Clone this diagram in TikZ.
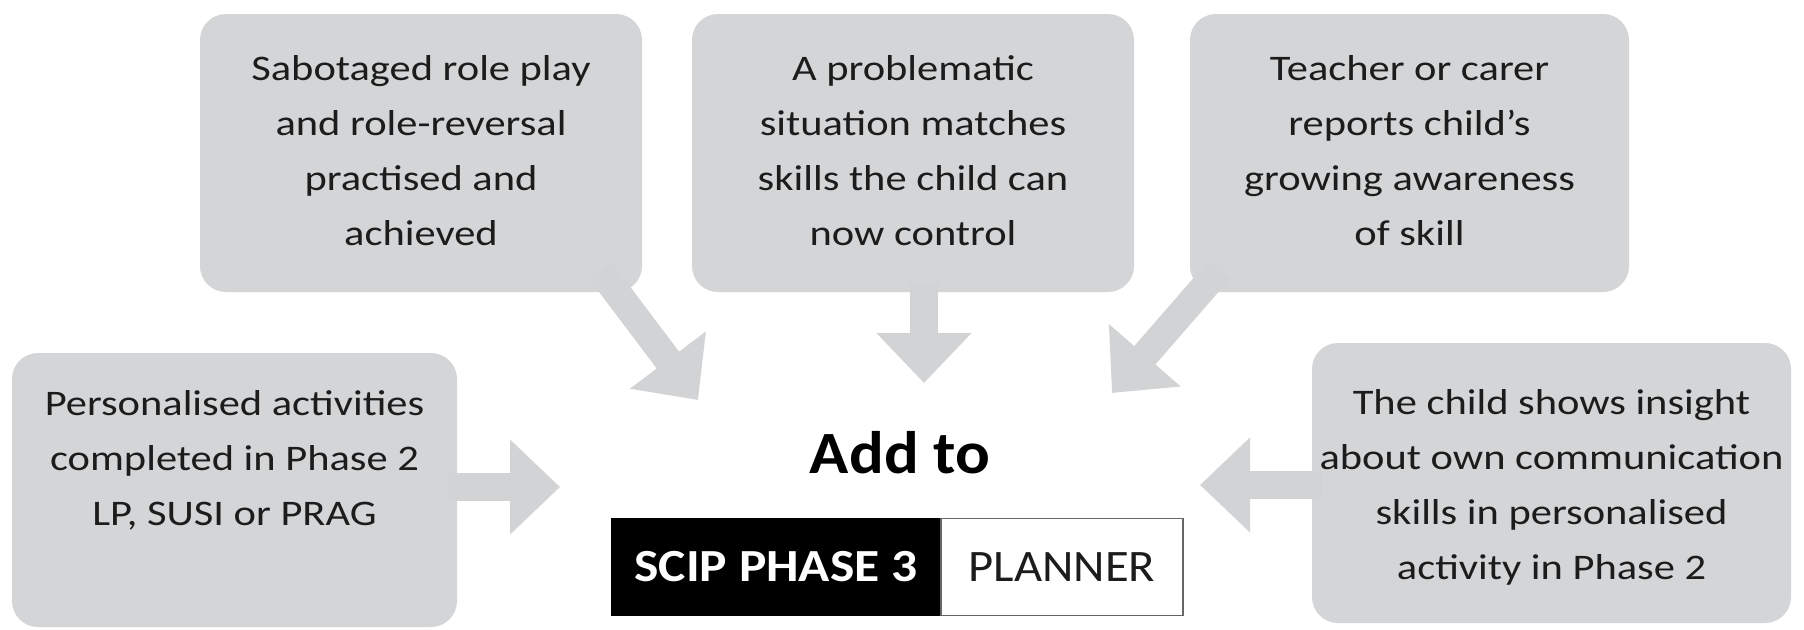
\documentclass[tikz,border=0pt]{standalone}
\usepackage{fontspec}
\setmainfont{Carlito}
\newfontfamily\bodyfont{Carlito}[FakeStretch=1.18]
\newfontfamily\scipfont{Carlito}[FakeStretch=1.08]
\newfontfamily\scipwide{Carlito}[FakeStretch=1.12]
\usetikzlibrary{arrows.meta}
\definecolor{boxgray}{RGB}{211,213,215}
\definecolor{arrgray}{RGB}{209,211,213}
\definecolor{txt}{RGB}{28,28,28}
\begin{document}
\begin{tikzpicture}[x=1pt,y=-1pt,
  bubble/.style={fill=boxgray, rounded corners=26pt, inner sep=0pt, outer sep=0pt},
  btext/.style={text=txt, font=\bodyfont\fontsize{36}{55}\selectfont, align=center, inner sep=0pt},
  blockarrow/.style={draw=arrgray, line width=28pt, -{Triangle[width=92pt,length=50pt]}}]
\fill[white] (0,0) rectangle (1804,629);
\useasboundingbox (0,0) rectangle (1804,629);

% bubbles
\node[bubble, minimum width=442pt, minimum height=278pt] (b1) at (421,153) {};
\node[bubble, minimum width=442pt, minimum height=278pt] (b2) at (913,153) {};
\node[bubble, minimum width=439pt, minimum height=278pt] (b3) at (1409.5,153) {};
\node[bubble, minimum width=445pt, minimum height=274pt] (b4) at (234.5,490) {};
\node[bubble, minimum width=479pt, minimum height=280pt] (b5) at (1551.5,483) {};

% arrow targets
\coordinate (h1) at (698,400);
\coordinate (h2) at (924,383);
\coordinate (h3) at (1112,393);
\coordinate (h4) at (560,487);
\coordinate (h5) at (1200,485);

% arrows
\draw[blockarrow] ([xshift=-42pt,yshift=22pt]b1.south east) -- (h1);
\draw[blockarrow] ([xshift=11pt,yshift=10pt]b2.south) -- (h2);
\draw[blockarrow] ([xshift=29pt,yshift=22pt]b3.south west) -- (h3);
\draw[blockarrow] ([xshift=-10pt,yshift=3pt]b4.east) -- (h4);
\draw[blockarrow] ([xshift=10pt,yshift=-2pt]b5.west) -- (h5);

% texts
\node[btext] (t1) at (421,151) {Sabotaged role play\\and role-reversal\\practised and\\achieved};
\node[btext] (t2) at (913,151) {A problematic\\situation matches\\skills the child can\\now control};
\node[btext] (t3) at (1409.5,151) {Teacher or carer\\reports child’s\\growing awareness\\of skill};
\node[btext] (t4) at (234.5,460) {Personalised activities\\completed in Phase 2\\LP, SUSI or PRAG};
\node[btext] (t5) at (1551.5,487) {The child shows insight\\about own communication\\skills in personalised\\activity in Phase 2};

% centre
\node[text=black, font=\scipfont\bfseries\fontsize{60}{70}\selectfont, anchor=base, inner sep=0pt] (add) at (900,473) {Add to};
\node[fill=black, text=white, font=\scipwide\bfseries\fontsize{46}{50}\selectfont, minimum width=330pt, minimum height=98pt, inner sep=0pt, outer sep=0pt] (scip) at (776,567) {SCIP PHASE 3};
\node[draw=black!60, line width=1.5pt, fill=white, text=txt, font=\scipfont\fontsize{45}{50}\selectfont, minimum width=242pt, minimum height=97pt, inner sep=0pt, outer sep=0pt, anchor=west] (plan) at (scip.east) {PLANNER};
\end{tikzpicture}
\end{document}
